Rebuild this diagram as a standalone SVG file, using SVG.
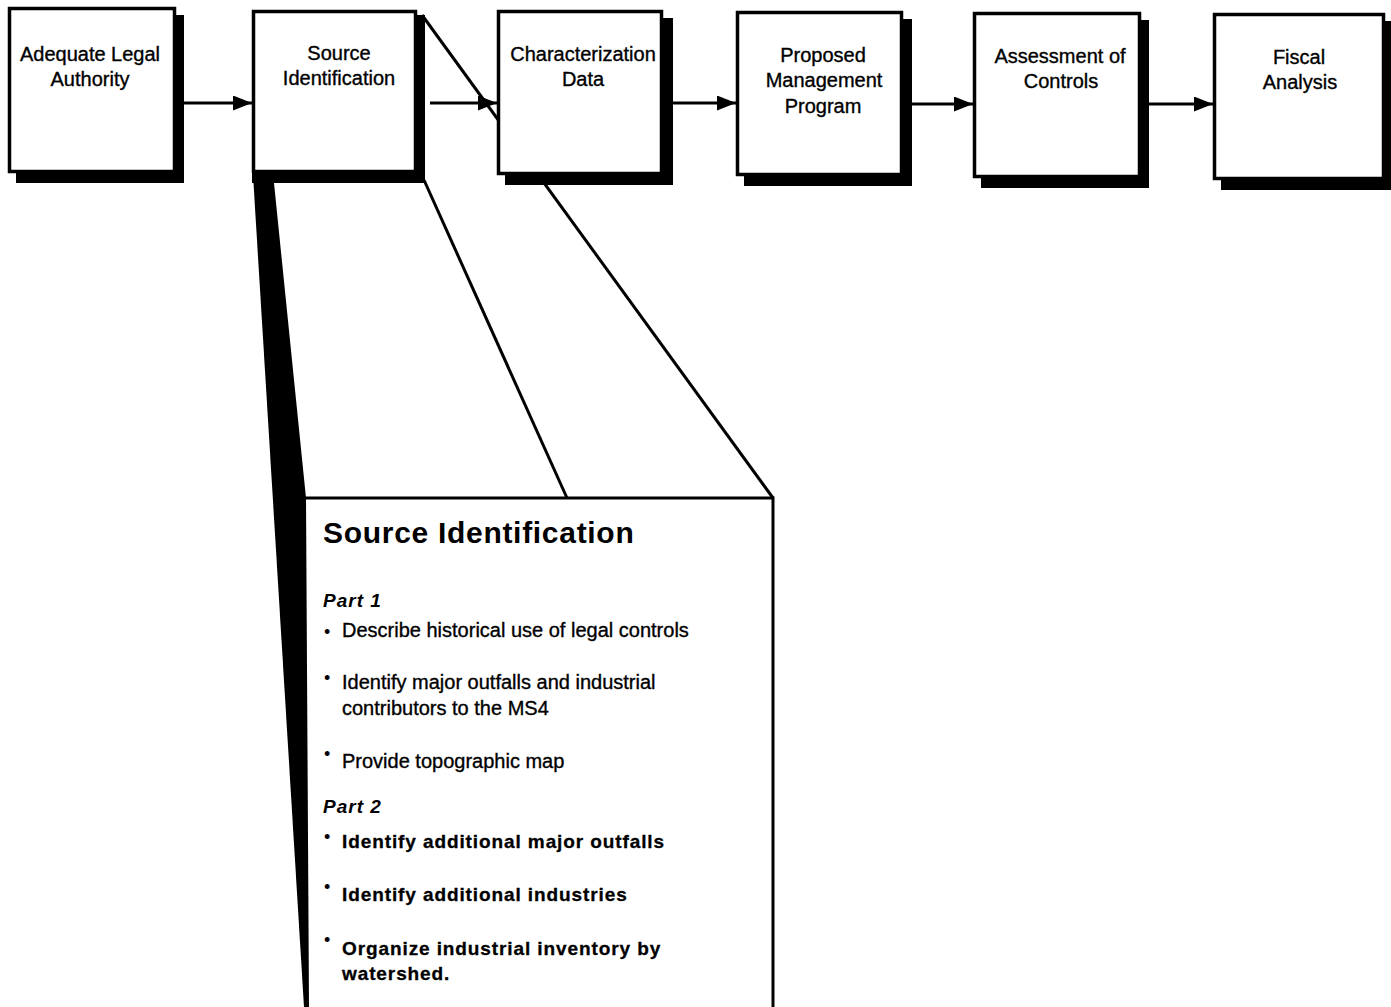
<svg xmlns="http://www.w3.org/2000/svg" width="1391" height="1007" viewBox="0 0 1391 1007">
<style>
.box{fill:#fff;stroke:#000;stroke-width:3.5}
.sh{fill:#000}
.ln{stroke:#000;stroke-width:3;fill:none}
.lbl{font-family:"Liberation Sans",Arial,Helvetica,sans-serif;font-size:20px;text-anchor:middle;fill:#000;stroke:#000;stroke-width:0.35}
.title{font-family:"Liberation Sans",Arial,Helvetica,sans-serif;font-size:30px;font-weight:bold;letter-spacing:0.7px;fill:#000}
.part{font-family:"Liberation Sans",Arial,Helvetica,sans-serif;font-size:19px;font-weight:bold;font-style:italic;letter-spacing:1px;fill:#000}
.item{font-family:"Liberation Sans",Arial,Helvetica,sans-serif;font-size:20px;fill:#000;stroke:#000;stroke-width:0.35}
.bitem{font-family:"Liberation Sans",Arial,Helvetica,sans-serif;font-size:19px;font-weight:bold;letter-spacing:0.9px;fill:#000;stroke:#000;stroke-width:0.3}
.bul{font-family:"Liberation Sans",Arial,Helvetica,sans-serif;font-size:18px;fill:#000}
</style>
<defs>
<marker id="ah" markerUnits="userSpaceOnUse" markerWidth="20" markerHeight="16" refX="19" refY="7.5" orient="auto">
<path d="M0,0 L19,7.5 L0,15 z" fill="#000"/>
</marker>
</defs>
<rect width="1391" height="1007" fill="#fff"/>

<g id="expansion">
<polygon points="253,175 274,183 306,498 309,1007 304,1007" fill="#000"/>
<line class="ln" x1="422" y1="15" x2="773" y2="498"/>
<line class="ln" x1="424" y1="180" x2="567" y2="498"/>
</g>

<g id="node-adequate-legal-authority">
<rect class="sh" x="16" y="15" width="168" height="168"/>
<rect class="box" x="9.5" y="8.5" width="165" height="163"/>
<text class="lbl" x="90" y="61">Adequate Legal</text>
<text class="lbl" x="90" y="86">Authority</text>
</g>

<g id="node-source-identification">
<rect class="sh" x="252" y="15" width="173" height="168"/>
<rect class="box" x="253.5" y="11.5" width="162" height="160"/>
<text class="lbl" x="339" y="60">Source</text>
<text class="lbl" x="339" y="85">Identification</text>
</g>

<g id="node-characterization-data">
<rect class="sh" x="505" y="18" width="168" height="167"/>
<rect class="box" x="498.5" y="11.5" width="163" height="162"/>
<text class="lbl" x="583" y="61">Characterization</text>
<text class="lbl" x="583" y="86">Data</text>
</g>

<g id="node-proposed-management-program">
<rect class="sh" x="744" y="19" width="168" height="167"/>
<rect class="box" x="737.5" y="12.5" width="164" height="162"/>
<text class="lbl" x="823" y="62">Proposed</text>
<text class="lbl" x="824" y="87">Management</text>
<text class="lbl" x="823" y="113">Program</text>
</g>

<g id="node-assessment-of-controls">
<rect class="sh" x="981" y="20" width="168" height="168"/>
<rect class="box" x="974.5" y="13.5" width="165" height="163"/>
<text class="lbl" x="1060" y="63">Assessment of</text>
<text class="lbl" x="1061" y="88">Controls</text>
</g>

<g id="node-fiscal-analysis">
<rect class="sh" x="1221" y="21" width="170" height="169"/>
<rect class="box" x="1214.5" y="14.5" width="169" height="164"/>
<text class="lbl" x="1299" y="64">Fiscal</text>
<text class="lbl" x="1300" y="89">Analysis</text>
</g>

<g id="connectors">
<line class="ln" x1="184" y1="103" x2="252" y2="103" marker-end="url(#ah)"/>
<line class="ln" x1="430" y1="103" x2="497" y2="103" marker-end="url(#ah)"/>
<line class="ln" x1="673" y1="103" x2="736" y2="103" marker-end="url(#ah)"/>
<line class="ln" x1="912" y1="104" x2="973" y2="104" marker-end="url(#ah)"/>
<line class="ln" x1="1149" y1="104" x2="1213" y2="104" marker-end="url(#ah)"/>
</g>

<g id="node-source-identification-detail">
<path class="ln" d="M305,498 L773,498 L773,1007"/>
<text class="title" x="323" y="543">Source Identification</text>
<text class="part" x="323" y="607">Part 1</text>
<text class="bul" x="324" y="638">•</text>
<text class="item" x="342" y="637">Describe historical use of legal controls</text>
<text class="bul" x="324" y="684">•</text>
<text class="item" x="342" y="689">Identify major outfalls and industrial</text>
<text class="item" x="342" y="715">contributors to the MS4</text>
<text class="bul" x="324" y="760">•</text>
<text class="item" x="342" y="768">Provide topographic map</text>
<text class="part" x="323" y="813">Part 2</text>
<text class="bul" x="324" y="843">•</text>
<text class="bitem" x="342" y="848">Identify additional major outfalls</text>
<text class="bul" x="324" y="893">•</text>
<text class="bitem" x="342" y="901">Identify additional industries</text>
<text class="bul" x="324" y="946">•</text>
<text class="bitem" x="342" y="955">Organize industrial inventory by</text>
<text class="bitem" x="342" y="980">watershed.</text>
</g>
</svg>
